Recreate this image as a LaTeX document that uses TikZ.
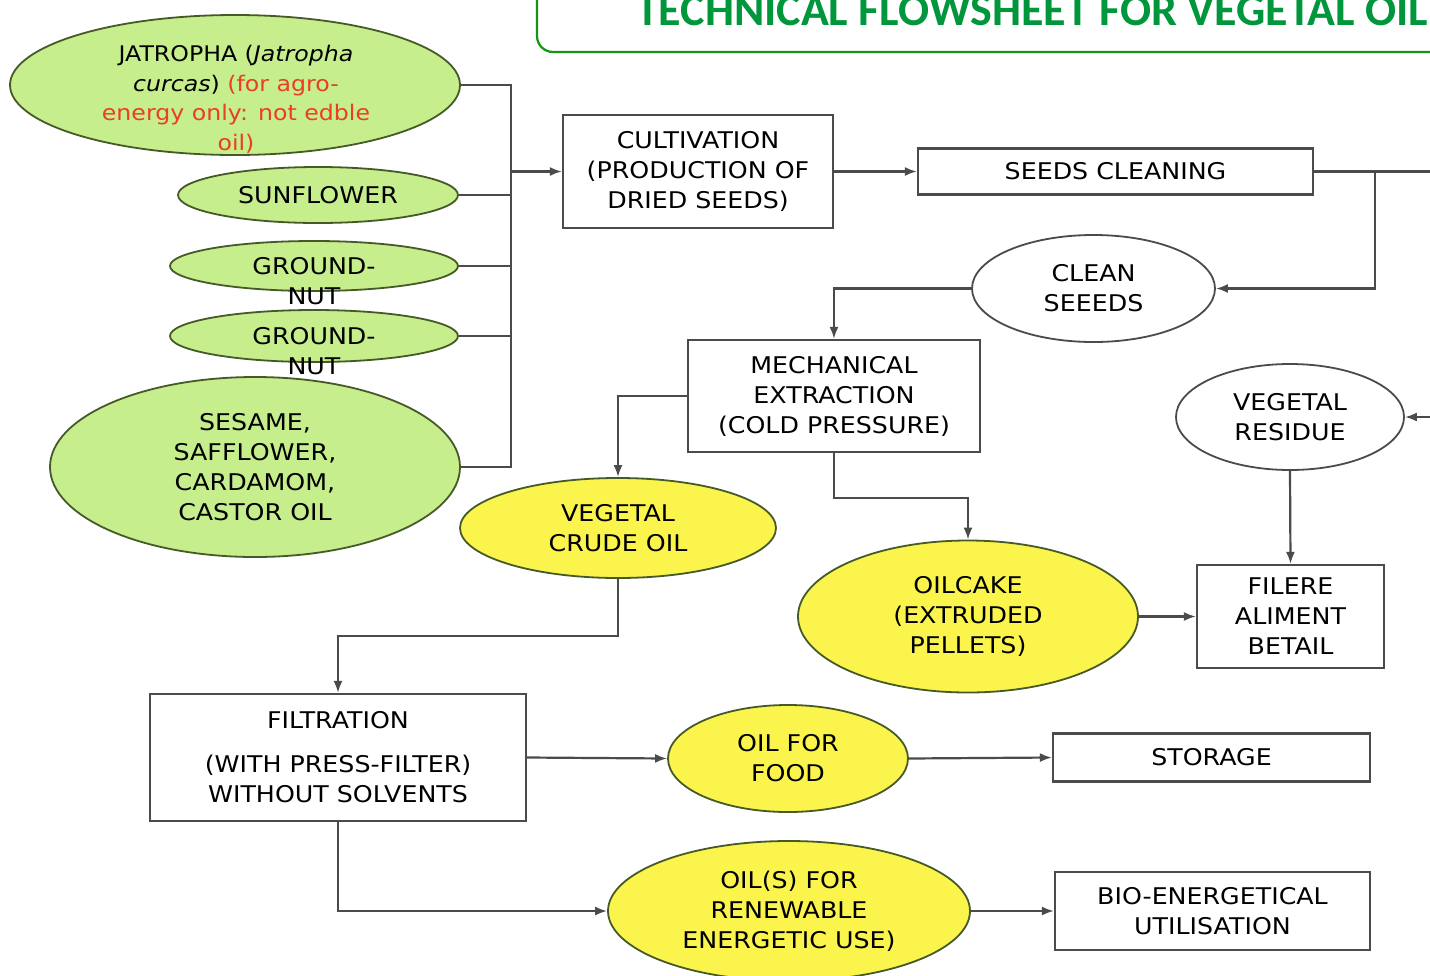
\documentclass[tikz,border=0pt]{standalone}
\usepackage{fontspec}
\setmainfont{DejaVu Sans}[FakeStretch=1.1]
\newfontfamily\titlefont{Carlito}
\usetikzlibrary{shapes.geometric,arrows.meta}
\definecolor{greenfill}{RGB}{198,238,140}
\definecolor{yellowfill}{RGB}{250,244,76}
\definecolor{lineg}{RGB}{75,75,75}
\definecolor{olivedark}{RGB}{70,90,40}
\definecolor{redtxt}{RGB}{232,64,32}
\definecolor{titlegreen}{RGB}{0,150,60}
\definecolor{framegreen}{RGB}{20,150,20}
\begin{document}
\begin{tikzpicture}[x=1pt,y=-1pt,
 txt/.style={font=\fontsize{23}{30}\selectfont, align=center, text=black},
 greenell/.style={ellipse, draw=olivedark, line width=1.8, fill=greenfill, inner sep=0, txt},
 yellowell/.style={ellipse, draw=olivedark, line width=1.8, fill=yellowfill, inner sep=0, txt},
 whiteell/.style={ellipse, draw=lineg, line width=1.8, fill=white, inner sep=0, txt},
 procbox/.style={rectangle, draw=lineg, line width=2.2, fill=white, inner sep=0, txt},
 conn/.style={draw=lineg, line width=2.2},
 arr/.style={conn, -{Latex[length=12pt,width=9pt]}}
]
\useasboundingbox (0,0) rectangle (1430,975);
\clip (0,0) rectangle (1430,975);
\fill[white] (0,0) rectangle (1430,975);

% title
\draw[framegreen, line width=2.2, rounded corners=16] (537,-40) rectangle (1480,52);
\node[anchor=base west, font=\titlefont\bfseries\fontsize{46}{46}\selectfont, text=titlegreen, inner sep=0] (title) at (636,25) {TECHNICAL FLOWSHEET FOR VEGETAL OIL};

% raw materials
\node[greenell, minimum width=450, minimum height=140] (jat) at (235,85) {};
\node[greenell, minimum width=280, minimum height=56] (sun) at (318,195) {SUNFLOWER};
\node[greenell, minimum width=288, minimum height=50] (gn1) at (314,266) {};
\node[greenell, minimum width=288, minimum height=52] (gn2) at (314,336) {};
\node[greenell, minimum width=410, minimum height=180] (ses) at (255,467) {SESAME,\\SAFFLOWER,\\CARDAMOM,\\CASTOR OIL};
\node[txt, font=\fontsize{21.5}{29.5}\selectfont] (jattext) at (236,99) {JATROPHA (\textit{Jatropha}\\\textit{curcas}) \textcolor{redtxt}{(for agro-}\\\textcolor{redtxt}{energy only: not edble}\\\textcolor{redtxt}{oil)}};
\node[txt] (gn1text) at (314,281.5) {GROUND-\\NUT};
\node[txt] (gn2text) at (314,351.5) {GROUND-\\NUT};

% process nodes
\node[procbox, minimum width=270, minimum height=113] (cult) at (698,171.5) {CULTIVATION\\(PRODUCTION OF\\DRIED SEEDS)};
\node[procbox, minimum width=395, minimum height=46] (clean) at (1115.5,171.5) {SEEDS CLEANING};
\node[whiteell, minimum width=243, minimum height=107] (cs) at (1093.5,288.5) {CLEAN\\SEEEDS};
\node[procbox, minimum width=292, minimum height=112] (mech) at (834,396) {MECHANICAL\\EXTRACTION\\(COLD PRESSURE)};
\node[whiteell, minimum width=228, minimum height=106] (res) at (1290,417) {VEGETAL\\RESIDUE};
\node[yellowell, minimum width=316, minimum height=100] (vco) at (618,528) {VEGETAL\\CRUDE OIL};
\node[yellowell, minimum width=340, minimum height=152] (oc) at (968,616.5) {OILCAKE\\(EXTRUDED\\PELLETS)};
\node[procbox, minimum width=187, minimum height=103] (fil) at (1290.5,616.5) {FILERE\\ALIMENT\\BETAIL};
\node[procbox, minimum width=376, minimum height=127] (filt) at (338,757.5) {FILTRATION\\[14pt](WITH PRESS-FILTER)\\WITHOUT SOLVENTS};
\node[yellowell, minimum width=240, minimum height=107] (food) at (788,758.5) {OIL FOR\\FOOD};
\node[procbox, minimum width=317, minimum height=48] (sto) at (1211.5,757.5) {STORAGE};
\node[yellowell, minimum width=362, minimum height=140] (ren) at (789,911) {OIL(S) FOR\\RENEWABLE\\ENERGETIC USE)};
\node[procbox, minimum width=315, minimum height=78] (bio) at (1212.5,911) {BIO-ENERGETICAL\\UTILISATION};

% bus of raw materials
\coordinate (bustop) at (511,85);
\coordinate (busbot) at (511,467);
\draw[conn] (jat.east) -- (bustop) -- (busbot) -- (ses.east);
\draw[conn] (sun.east) -- (sun.east -| bustop);
\draw[conn] (gn1.east) -- (gn1.east -| bustop);
\draw[conn] (gn2.east) -- (gn2.east -| bustop);
\draw[arr] (cult.west -| bustop) -- (cult.west);

% flow
\draw[arr] (cult.east) -- (clean.west);
\coordinate (rightout) at (1440,171.5);
\coordinate (branch) at (1375,171.5);
\draw[conn] (clean.east) -- (rightout);
\draw[arr] (branch) |- (cs.east);
\draw[arr] (cs.west) -| (mech.north);
\draw[arr] (mech.west) -| (vco.north);
\draw[arr] (mech.south) -- ++(0,45) -| (oc.north);
\draw[arr] (oc.east) -- (fil.west);
\coordinate (resin) at (1440,417);
\draw[arr] (resin) -- (res.east);
\draw[arr] (res.south) -- (fil.north);
\draw[arr] (vco.south) -- ++(0,57) -| (filt.north);
\draw[arr] (filt.east) -- (food.west);
\draw[arr] (food.east) -- (sto.west);
\draw[arr] (filt.south) |- (ren.west);
\draw[arr] (ren.east) -- (bio.west);
\end{tikzpicture}
\end{document}
